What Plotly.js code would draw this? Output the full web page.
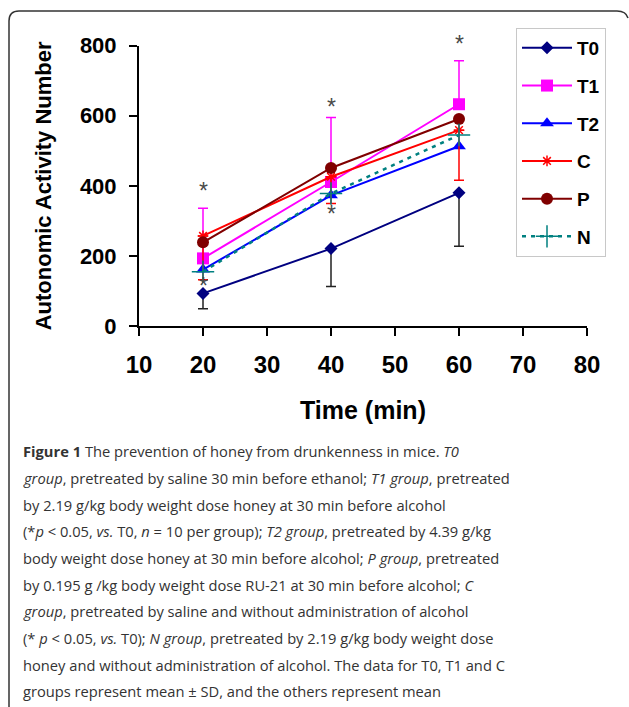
<!DOCTYPE html>
<html>
<head>
<meta charset="utf-8">
<script src="https://cdn.plot.ly/plotly-3.0.1.min.js"></script>
<style>html,body{margin:0;padding:0;background:#fff;}#chart{width:629px;height:707px;}</style>
</head>
<body>
<div id="chart"></div>
<script>
// ---- data ----
const time = [20, 40, 60];
const T0 = [93, 221, 380];
const T0_sd = [44, 108, 152];
const T1 = [193, 411, 633];
const T1_sd = [143, 184, 124];
const T2 = [161, 373, 513];
const C = [257, 426, 559];
const C_sd = [125, 76, 143];
const P = [239, 451, 591];
const N = [155, 378, 545];
const starX = [20, 20, 40, 40, 60];
const starY = [390, 119, 630, 324, 810];
const xTicks = [10, 20, 30, 40, 50, 60, 70, 80];
const yTicks = [0, 200, 400, 600, 800];
const captionLines = [
  "<b>Figure 1</b> The prevention of honey from drunkenness in mice. <i>T0</i>",
  "<i>group</i>, pretreated by saline 30 min before ethanol; <i>T1 group</i>, pretreated",
  "by 2.19 g/kg body weight dose honey at 30 min before alcohol",
  "(*<i>p</i> &lt; 0.05, <i>vs.</i> T0, <i>n</i> = 10 per group); <i>T2 group</i>, pretreated by 4.39 g/kg",
  "body weight dose honey at 30 min before alcohol; <i>P group</i>, pretreated",
  "by 0.195 g /kg body weight dose RU-21 at 30 min before alcohol; <i>C</i>",
  "<i>group</i>, pretreated by saline and without administration of alcohol",
  "(* <i>p</i> &lt; 0.05, <i>vs.</i> T0); <i>N group</i>, pretreated by 2.19 g/kg body weight dose",
  "honey and without administration of alcohol. The data for T0, T1 and C",
  "groups represent mean ± SD, and the others represent mean"
];

// ---- layout geometry (pixels) ----
const W = 629, H = 707;
const L = 139, R = 587, PT = 20, AT = 45.7, B = 325.7;   // paper top, axis top, axis bottom
const pw = R - L, ph = B - PT;
const px2x = p => (p - L) / pw;
const px2y = p => (B - p) / ph;
const yDomTop = (B - AT) / ph;
const yMax = 800;

const bold = {family: "Liberation Sans, Arial, sans-serif", weight: 700, color: "#000"};
const none = [0, 0, 0];

function tr(name, y, color, marker, line, err) {
  const t = {
    x: time, y: y, name: name, type: "scatter", mode: "lines+markers",
    legendgroup: name, cliponaxis: false, hoverinfo: "skip",
    line: Object.assign({color: color, width: 2}, line || {}),
    marker: Object.assign({color: color}, marker)
  };
  if (err) t.error_y = err;
  return t;
}

const traces = [
  tr("T0", T0, "#000080", {symbol: "diamond", size: 10},
     null, {type: "data", symmetric: false, array: none, arrayminus: T0_sd, color: "#222", thickness: 1.5, width: 5}),
  tr("T1", T1, "#ff00ff", {symbol: "square", size: 12},
     null, {type: "data", symmetric: false, array: T1_sd, arrayminus: none, color: "#ff00ff", thickness: 1.5, width: 5}),
  tr("T2", T2, "#0000ff", {symbol: "triangle-up", size: 12}),
  tr("C", C, "#ff0000", {symbol: "asterisk-open", size: 9, line: {color: "#ff0000", width: 1.5}},
     null, {type: "data", symmetric: false, array: none, arrayminus: C_sd, color: "#ff0000", thickness: 1.5, width: 5}),
  tr("P", P, "#800000", {symbol: "circle", size: 12}),
  tr("N", N, "#008080", {symbol: "cross-thin-open", size: 16, line: {color: "#008080", width: 1.5}},
     {dash: "4px,5px", width: 2.5})
];

const annotations = [];
// significance asterisks, placed on an invisible y axis with the same scale but taller extent
starX.forEach((sx, i) => annotations.push({
  x: sx, y: starY[i], xref: "x", yref: "y2", text: "*", showarrow: false,
  font: {family: "Liberation Sans, Arial, sans-serif", size: 23, color: "#4a4a4a"},
  xanchor: "center", yanchor: "middle", yshift: -2
}));
captionLines.forEach((t, i) => annotations.push({
  x: px2x(21), y: px2y(450.7 + 26.67 * i), xref: "paper", yref: "paper",
  text: t, showarrow: false, xanchor: "left", yanchor: "middle", align: "left",
  font: {family: "Open Sans, sans-serif", size: 14.7, color: "#333"}
}));

const shapes = [{
  type: "path", xref: "paper", yref: "paper",
  path: `M ${px2x(9)},${px2y(707)} L ${px2x(9)},${px2y(21)} Q ${px2x(9)},${px2y(11)} ${px2x(19)},${px2y(11)} L ${px2x(617)},${px2y(11)} Q ${px2x(626)},${px2y(11)} ${px2x(628)},${px2y(18)}`,
  line: {color: "#333", width: 1.5}
}];

const layout = {
  width: W, height: H,
  margin: {l: L, r: W - R, t: PT, b: H - B, pad: 0},
  paper_bgcolor: "#fff", plot_bgcolor: "rgba(0,0,0,0)",
  showlegend: true,
  legend: {
    x: px2x(516), y: px2y(28), xanchor: "left", yanchor: "top",
    bgcolor: "#fff", bordercolor: "#c8c8c8", borderwidth: 1,
    font: Object.assign({size: 19}, bold),
    traceorder: "grouped", tracegroupgap: 10, itemwidth: 50
  },
  xaxis: {
    range: [10, 80], tickvals: xTicks, ticktext: xTicks.map(String), anchor: "y",
    showline: true, linecolor: "#000", linewidth: 2, mirror: false,
    ticks: "outside", ticklen: 8, tickwidth: 2, tickcolor: "#000",
    showgrid: false, zeroline: false, fixedrange: true,
    tickfont: Object.assign({size: 24}, bold), ticklabelstandoff: 8,
    title: {text: "Time (min)", font: Object.assign({size: 25}, bold), standoff: 25}
  },
  yaxis: {
    domain: [0, yDomTop], anchor: "x",
    range: [0, yMax], tickvals: yTicks, ticktext: yTicks.map(String),
    showline: true, linecolor: "#000", linewidth: 2,
    ticks: "outside", ticklen: 8, tickwidth: 2, tickcolor: "#000",
    showgrid: false, zeroline: false, fixedrange: true,
    tickfont: Object.assign({size: 22}, bold), ticklabelstandoff: 8,
    title: {text: "Autonomic Activity Number", font: Object.assign({size: 22}, bold), standoff: 22}
  },
  yaxis2: {
    domain: [0, 1], anchor: "x", range: [0, yMax / yDomTop],
    visible: false, showgrid: false, zeroline: false, fixedrange: true
  },
  annotations: annotations,
  shapes: shapes
};

Plotly.newPlot("chart", traces, layout, {staticPlot: true, displayModeBar: false});
</script>
</body>
</html>
